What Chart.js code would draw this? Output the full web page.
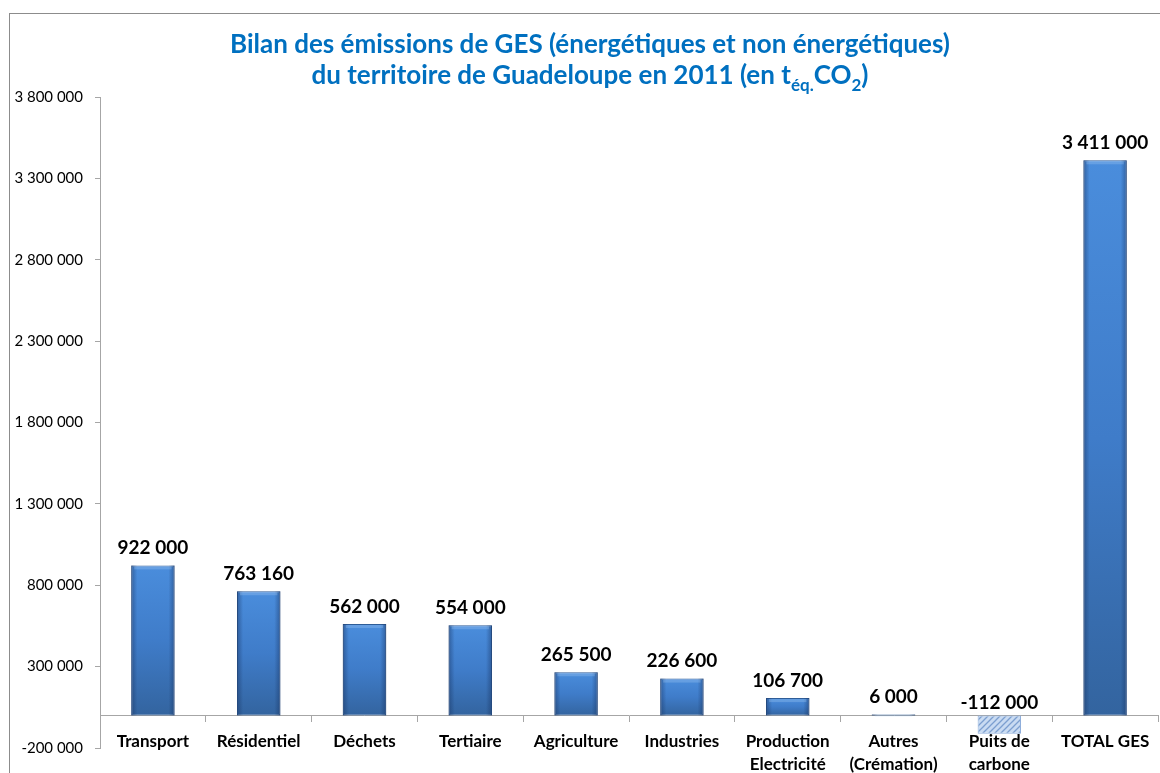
<!DOCTYPE html>
<html>
<head>
<meta charset="utf-8">
<script src="https://cdn.jsdelivr.net/npm/chart.js@4.4.1/dist/chart.umd.min.js"></script>
<style>
  body { margin: 0; background: #fff; }
</style>
</head>
<body>
<canvas id="ges" width="1160" height="773"></canvas>
<script>
// données (t éq. CO2)
const categories = ["Transport", "Résidentiel", "Déchets", "Tertiaire", "Agriculture", "Industries",
  ["Production", "Electricité"], ["Autres", "(Crémation)"], ["Puits de", "carbone"], "TOTAL GES"];
const emissions = [922000, 763160, 562000, 554000, 265500, 226600, 106700, 6000, -112000, 3411000];
const yTicks = [-200000, 300000, 800000, 1300000, 1800000, 2300000, 2800000, 3300000, 3800000];
const titleLine1 = "Bilan des émissions de GES (énergétiques et non énergétiques)";
const titleLine2 = [["du territoire de Guadeloupe en 2011 (en t", false], ["éq.", true], ["CO", false], ["2", true], [")", false]];

const FONT = "Lato, 'Open Sans', sans-serif";

function fmt(v) {
  const s = String(Math.abs(v)).replace(/\B(?=(\d{3})+(?!\d))/g, " ");
  return (v < 0 ? "-" : "") + s;
}

// motif hachuré pour le puits de carbone
const pc = document.createElement("canvas");
pc.width = 6; pc.height = 6;
const pctx = pc.getContext("2d");
pctx.fillStyle = "#c9dbf2";
pctx.fillRect(0, 0, 6, 6);
pctx.strokeStyle = "#7c9fd0";
pctx.lineWidth = 1.3;
pctx.beginPath();
pctx.moveTo(0, 6); pctx.lineTo(6, 0);
pctx.moveTo(-1, 1); pctx.lineTo(1, -1);
pctx.moveTo(5, 7); pctx.lineTo(7, 5);
pctx.stroke();
const hatch = pctx.createPattern(pc, "repeat");

function barFill(c) {
  if (c.type !== "data") return "#3f7fd0";
  if (c.raw < 0) return hatch;
  const chart = c.chart;
  if (!chart.chartArea) return "#3f7fd0";
  const y = chart.scales.y;
  const top = y.getPixelForValue(c.raw), base = y.getPixelForValue(0);
  const g = chart.ctx.createLinearGradient(0, top, 0, base);
  g.addColorStop(0, "#4a8ddc");
  g.addColorStop(0.5, "#3f7cc9");
  g.addColorStop(1, "#33649f");
  return g;
}

const framePlugin = {
  id: "frame",
  beforeDraw(chart) {
    const ctx = chart.ctx;
    ctx.save();
    ctx.fillStyle = "#fff";
    ctx.fillRect(0, 0, chart.width, chart.height);
    ctx.strokeStyle = "#8c8c8c";
    ctx.lineWidth = 1;
    ctx.strokeRect(9.5, 13.5, chart.width + 20, chart.height + 20);
    ctx.restore();
  },
  afterDraw(chart) {
    const ctx = chart.ctx;
    const cx = 590;
    ctx.save();
    ctx.fillStyle = "#0070c0";
    ctx.textAlign = "left";
    ctx.textBaseline = "alphabetic";
    ctx.font = "bold 26px " + FONT;
    const w1 = ctx.measureText(titleLine1).width;
    ctx.fillText(titleLine1, cx - w1 / 2, 53);
    let total = 0;
    titleLine2.forEach(([t, sub]) => {
      ctx.font = (sub ? "bold 17px " : "bold 26px ") + FONT;
      total += ctx.measureText(t).width;
    });
    let x = cx - total / 2;
    titleLine2.forEach(([t, sub]) => {
      ctx.font = (sub ? "bold 17px " : "bold 26px ") + FONT;
      ctx.fillText(t, x, sub ? 91 : 84);
      x += ctx.measureText(t).width;
    });
    ctx.restore();
  }
};

const barLook = {
  id: "barLook",
  afterDatasetsDraw(chart) {
    const ctx = chart.ctx;
    const meta = chart.getDatasetMeta(0);
    ctx.save();
    meta.data.forEach((el, i) => {
      const v = emissions[i];
      const left = el.x - el.width / 2;
      const top = Math.min(el.y, el.base), h = Math.abs(el.base - el.y);
      if (v > 0) {
        const g = ctx.createLinearGradient(left, 0, left + el.width, 0);
        g.addColorStop(0, "rgba(20,45,90,0.45)");
        g.addColorStop(0.14, "rgba(20,45,90,0)");
        g.addColorStop(0.86, "rgba(20,45,90,0)");
        g.addColorStop(1, "rgba(20,45,90,0.45)");
        ctx.fillStyle = g;
        ctx.fillRect(left, top, el.width, h);
        const bh = Math.min(3, h);
        ctx.fillStyle = "rgba(170,205,245,0.3)";
        ctx.fillRect(left + 3, top + 1, el.width - 6, bh);
      }
      // étiquette de valeur
      ctx.fillStyle = "#000";
      ctx.font = "bold 19px " + FONT;
      ctx.textAlign = "center";
      ctx.textBaseline = "bottom";
      ctx.fillText(fmt(v), el.x, top - (v < 0 ? 3 : 8));
    });
    ctx.restore();
  }
};

new Chart(document.getElementById("ges"), {
  type: "bar",
  data: {
    labels: categories,
    datasets: [{
      data: emissions,
      backgroundColor: barFill,
      borderColor: emissions.map(v => v < 0 ? "#8eaedb" : "#2f5d98"),
      borderWidth: 1,
      borderSkipped: false,
      barPercentage: 0.41,
      categoryPercentage: 1
    }]
  },
  options: {
    responsive: false,
    animation: false,
    layout: { padding: { top: 97, right: 2, bottom: 25, left: 0 } },
    plugins: { legend: { display: false }, title: { display: false }, tooltip: { enabled: false } },
    scales: {
      x: {
        position: { y: 0 },
        grid: { display: true, drawOnChartArea: false, drawTicks: true, tickLength: 6, color: "#a6a6a6", offset: true },
        border: { display: true, color: "#a6a6a6" },
        ticks: { color: "#000", padding: 9, font: { family: FONT, size: 17, weight: "bold", lineHeight: 1.35 }, maxRotation: 0, autoSkip: false }
      },
      y: {
        min: -200000,
        max: 3800000,
        afterBuildTicks(scale) { scale.ticks = yTicks.map(v => ({ value: v })); },
        afterFit(scale) { scale.width = 100; },
        grid: { display: true, drawOnChartArea: false, drawTicks: true, tickLength: 5, color: "#a6a6a6" },
        border: { display: true, color: "#a6a6a6" },
        ticks: { color: "#000", padding: 12, font: { family: FONT, size: 15 }, callback: v => fmt(v) }
      }
    }
  },
  plugins: [framePlugin, barLook]
});
</script>
</body>
</html>
